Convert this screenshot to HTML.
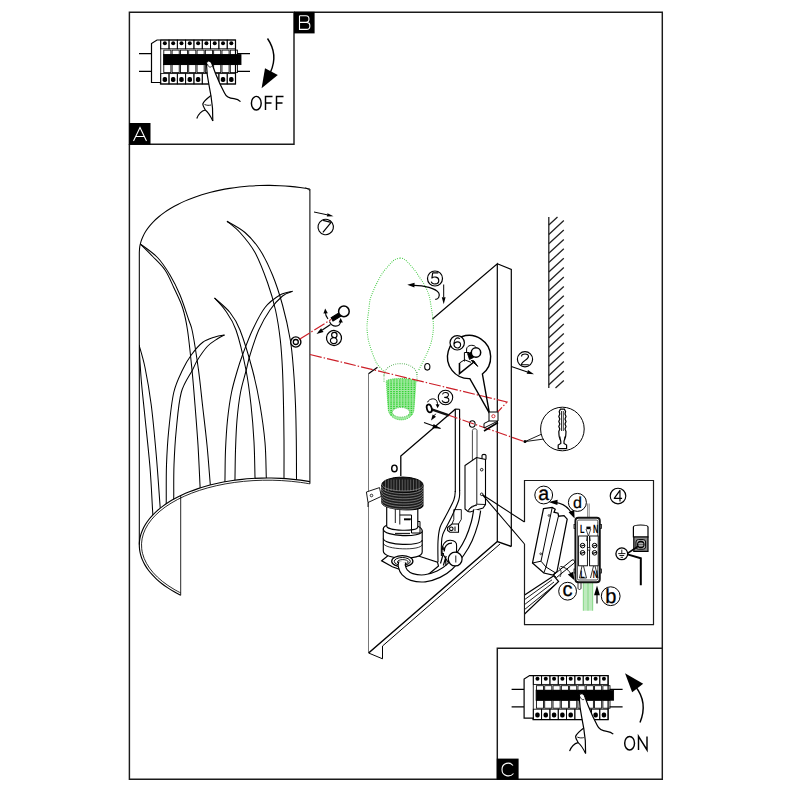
<!DOCTYPE html>
<html><head><meta charset="utf-8"><title>Assembly</title>
<style>
html,body{margin:0;padding:0;background:#fff;}
svg{display:block;font-family:"Liberation Sans",sans-serif;}
text{text-rendering:geometricPrecision;}
</style></head><body>
<svg width="800" height="800" viewBox="0 0 800 800">
<rect width="800" height="800" fill="#fff"/>
<defs>

<g id="brk" stroke="#000" stroke-width="0.85" fill="none">
<path d="M139,53.7H151.5M139,71.3H151.5M237,53.7H250M237,71.3H250" stroke-width="1.3"/>
<path d="M151.5,82.5V43.5L157,40H235.5V84H160.5V82.5Z" fill="#fff" stroke-width="1.2"/>
<path d="M160.7,40V84" />
<rect x="160.70" y="40" width="8.31" height="8.8"/>
<circle cx="164.86" cy="43.2" r="2" fill="#000" stroke="none"/>
<rect x="169.01" y="40" width="8.31" height="8.8"/>
<circle cx="173.17" cy="43.2" r="2" fill="#000" stroke="none"/>
<rect x="177.32" y="40" width="8.31" height="8.8"/>
<circle cx="181.48" cy="43.2" r="2" fill="#000" stroke="none"/>
<rect x="185.63" y="40" width="8.31" height="8.8"/>
<circle cx="189.79" cy="43.2" r="2" fill="#000" stroke="none"/>
<rect x="193.94" y="40" width="8.31" height="8.8"/>
<circle cx="198.10" cy="43.2" r="2" fill="#000" stroke="none"/>
<rect x="202.26" y="40" width="8.31" height="8.8"/>
<circle cx="206.41" cy="43.2" r="2" fill="#000" stroke="none"/>
<rect x="210.57" y="40" width="8.31" height="8.8"/>
<circle cx="214.72" cy="43.2" r="2" fill="#000" stroke="none"/>
<rect x="218.88" y="40" width="8.31" height="8.8"/>
<circle cx="223.03" cy="43.2" r="2" fill="#000" stroke="none"/>
<rect x="227.19" y="40" width="8.31" height="8.8"/>
<circle cx="231.34" cy="43.2" r="2" fill="#000" stroke="none"/>
<rect x="163.80" y="50.1" width="7.11" height="4.8"/>
<rect x="172.11" y="50.1" width="7.11" height="4.8"/>
<rect x="180.42" y="50.1" width="7.11" height="4.8"/>
<rect x="188.73" y="50.1" width="7.11" height="4.8"/>
<rect x="197.04" y="50.1" width="7.11" height="4.8"/>
<rect x="205.36" y="50.1" width="7.11" height="4.8"/>
<rect x="213.67" y="50.1" width="7.11" height="4.8"/>
<rect x="221.98" y="50.1" width="7.11" height="4.8"/>
<rect x="230.29" y="50.1" width="7.11" height="4.8"/>
<rect x="163.5" y="54.6" width="77.5" height="10" fill="#000"/>
<rect x="163.80" y="64.6" width="7.11" height="8"/>
<rect x="172.11" y="64.6" width="7.11" height="8"/>
<rect x="180.42" y="64.6" width="7.11" height="8"/>
<rect x="188.73" y="64.6" width="7.11" height="8"/>
<rect x="197.04" y="64.6" width="7.11" height="8"/>
<rect x="205.36" y="64.6" width="7.11" height="8"/>
<rect x="213.67" y="64.6" width="7.11" height="8"/>
<rect x="221.98" y="64.6" width="7.11" height="8"/>
<rect x="230.29" y="64.6" width="7.11" height="8"/>
<rect x="160.70" y="73.6" width="8.31" height="10.4"/>
<rect x="162.66" y="77" width="4.4" height="5" rx="1.8" fill="#000" stroke="none"/>
<rect x="169.01" y="73.6" width="8.31" height="10.4"/>
<rect x="170.97" y="77" width="4.4" height="5" rx="1.8" fill="#000" stroke="none"/>
<rect x="177.32" y="73.6" width="8.31" height="10.4"/>
<rect x="179.28" y="77" width="4.4" height="5" rx="1.8" fill="#000" stroke="none"/>
<rect x="185.63" y="73.6" width="8.31" height="10.4"/>
<rect x="187.59" y="77" width="4.4" height="5" rx="1.8" fill="#000" stroke="none"/>
<rect x="193.94" y="73.6" width="8.31" height="10.4"/>
<rect x="195.90" y="77" width="4.4" height="5" rx="1.8" fill="#000" stroke="none"/>
<rect x="202.26" y="73.6" width="8.31" height="10.4"/>
<rect x="210.57" y="73.6" width="8.31" height="10.4"/>
<rect x="218.88" y="73.6" width="8.31" height="10.4"/>
<rect x="220.83" y="77" width="4.4" height="5" rx="1.8" fill="#000" stroke="none"/>
<rect x="227.19" y="73.6" width="8.31" height="10.4"/>
<rect x="229.14" y="77" width="4.4" height="5" rx="1.8" fill="#000" stroke="none"/>
</g>
<g id="hand" stroke="#000" stroke-width="1" fill="none">
<path d="M206.6,62.4C208,59.8 211.5,61 212.2,64.5L215.5,73.5L220,84L224.5,93C226,96.5 230,98.3 234,98.7C237,99 239,100 240.5,101.6L226,118L212.8,121L211,96L208.8,84L207.3,75Z" fill="#fff" stroke="none"/>
<path d="M206.6,62.4C208,59.8 211.5,61 212.2,64.5L215.5,73.5L220,84L224.5,93C226,96.5 230,98.3 234,98.7C237,99 239,100 240.5,101.6" stroke-width="1.2"/>
<path d="M206.6,62.4C206.4,66 207,71 207.3,75L208.8,84L211,96L212.5,108L212.8,121" stroke-width="1.2"/>
<path d="M207.5,64C208,67 210.5,68 211.8,66.2" stroke-width="0.8"/>
<path d="M211,95.5C207,98.5 203.8,101 202.8,104C203,107 205,108.5 205.3,110C201,111 198.5,114 196.8,118.5" fill="#fff" stroke-width="1.2"/>
<path d="M204.5,104.5C207,105.5 209,105.5 211,105" stroke-width="0.9"/>
<path d="M205.3,110C208,112 210,115 212.8,121" stroke-width="1.1"/>
</g>
</defs>
<g id="frames" fill="none" stroke="#1a1a1a" stroke-width="1.45">
<path d="M129.4,12.3H294V144.2H129.4Z"/>
<path d="M294,12.3H662.3V648"/>
<path d="M129.4,144.2V779.3H497.3"/>
<path d="M497.3,648.2H662.3V779.3H497.3Z"/>
<path d="M524.5,522V480.5H653.5V624.6H524.5V544" stroke-width="1.2"/>
</g>
<g id="labels">
<rect x="129.2" y="123" width="21.3" height="21.7" fill="#000"/>
<rect x="294" y="11.8" width="20.6" height="21.6" fill="#000"/>
<rect x="496.8" y="758.6" width="21.8" height="21.2" fill="#000"/>
<g fill="none" stroke="#fff" stroke-width="1.1">
<path d="M133.5,141L140,127.5L146.5,141M135.8,136.5H144.2"/>
<path d="M299.5,15.8V29.4H306.5C311,29.4 311,22.4 306.5,22.4H299.5M306,22.4C310,22.4 310,15.8 306,15.8H299.5"/>
<path d="M513,765.5C510,761.5 502,762.5 502,769.5C502,776.5 510,777.5 513.5,773.5"/>
</g></g>

<use href="#brk"/><use href="#hand"/>
<use href="#brk" transform="translate(372.6,635.6)"/><use href="#hand" transform="translate(372.8,632.6)"/>
<g id="offon" fill="none" stroke="#000" stroke-width="1.45">
<path d="M267.5,38.5C274,48 276,60 270.5,72" />
<path d="M265,68.3L277.8,75L261.6,88.3Z" fill="#000" stroke="none"/>
<ellipse cx="256.3" cy="103.2" rx="4.9" ry="6.8"/>
<path d="M265.5,110V96.4H272.5M265.5,103H271.5M276.5,110V96.4H283.5M276.5,103H282.5"/>
<path d="M640,722.5C646,708 643,696 635.5,686.5"/>
<path d="M625,673.2L643.2,683.8L632.2,692.3Z" fill="#000" stroke="none"/>
<ellipse cx="629.6" cy="743.2" rx="4.9" ry="6.8"/>
<path d="M638.5,750V736.4L647,750V736.4"/>
</g>
<g id="shade" fill="none" stroke="#000" stroke-width="1.05">
<path d="M309.90,189.02C308.26,188.76 303.37,187.94 300.06,187.50C296.76,187.06 293.41,186.69 290.05,186.39C286.69,186.08 283.30,185.85 279.91,185.68C276.52,185.52 273.11,185.42 269.71,185.39C266.31,185.36 262.90,185.41 259.51,185.52C256.13,185.63 252.74,185.81 249.38,186.06C246.03,186.31 242.68,186.63 239.38,187.01C236.07,187.40 232.79,187.85 229.56,188.37C226.33,188.89 223.13,189.48 219.99,190.13C216.85,190.78 213.75,191.50 210.72,192.27C207.69,193.05 204.71,193.89 201.81,194.79C198.91,195.69 196.08,196.65 193.32,197.67C190.57,198.68 187.89,199.76 185.30,200.88C182.71,202.01 180.20,203.19 177.80,204.42C175.39,205.65 173.07,206.94 170.85,208.26C168.64,209.59 166.52,210.96 164.51,212.38C162.51,213.79 160.60,215.25 158.82,216.75C157.03,218.24 155.35,219.77 153.80,221.34C152.24,222.90 150.80,224.50 149.49,226.13C148.17,227.75 146.98,229.41 145.91,231.08C144.84,232.76 143.90,234.46 143.09,236.18C142.28,237.89 141.59,239.63 141.04,241.38C140.49,243.13 140.07,244.89 139.78,246.66C139.49,248.42 139.39,251.09 139.31,251.98"/>
<path d="M139.31,251.98V544.58"/>
<path d="M309.9,189.02V483.83"/>
<path d="M309.90,481.62C308.33,481.37 303.63,480.58 300.46,480.15C297.28,479.73 294.07,479.36 290.85,479.06C287.62,478.76 284.37,478.52 281.12,478.34C277.87,478.17 274.59,478.06 271.33,478.01C268.07,477.96 264.79,477.98 261.53,478.06C258.28,478.14 255.02,478.29 251.78,478.49C248.55,478.70 245.33,478.97 242.14,479.31C238.95,479.64 235.78,480.04 232.65,480.50C229.52,480.95 226.42,481.48 223.37,482.06C220.32,482.64 217.31,483.28 214.36,483.98C211.40,484.67 208.49,485.43 205.65,486.25C202.81,487.06 200.02,487.93 197.31,488.85C194.60,489.78 191.95,490.76 189.38,491.78C186.81,492.81 184.31,493.89 181.90,495.02C179.49,496.15 177.15,497.32 174.92,498.54C172.68,499.76 170.52,501.03 168.47,502.33C166.41,503.64 164.45,504.99 162.59,506.37C160.73,507.76 158.96,509.18 157.31,510.64C155.66,512.09 154.11,513.58 152.67,515.10C151.23,516.62 149.90,518.17 148.69,519.74C147.47,521.31 146.37,522.91 145.39,524.53C144.40,526.14 143.53,527.78 142.79,529.44C142.04,531.09 141.41,532.76 140.90,534.44C140.39,536.12 140.00,537.81 139.74,539.51C139.47,541.21 139.33,542.92 139.31,544.62C139.29,546.32 139.39,548.04 139.62,549.74C139.84,551.44 140.19,553.15 140.66,554.84C141.12,556.53 141.71,558.22 142.42,559.89C143.13,561.56 143.96,563.22 144.90,564.86C145.85,566.51 146.91,568.13 148.09,569.74C149.26,571.34 150.56,572.92 151.96,574.47C153.36,576.03 154.88,577.56 156.49,579.06C158.11,580.55 159.84,582.02 161.66,583.45C163.49,584.88 165.42,586.28 167.45,587.64C169.47,589.00 171.59,590.32 173.80,591.60C176.01,592.87 179.55,594.68 180.70,595.30" stroke-width="1.15"/>
<path d="M309.90,483.83C308.36,483.59 303.77,482.81 300.67,482.39C297.56,481.97 294.42,481.60 291.27,481.30C288.11,481.00 284.93,480.76 281.75,480.58C278.57,480.40 275.36,480.28 272.16,480.22C268.97,480.17 265.76,480.17 262.57,480.24C259.38,480.30 256.18,480.43 253.02,480.62C249.85,480.80 246.69,481.05 243.56,481.36C240.43,481.67 237.32,482.04 234.25,482.47C231.18,482.90 228.13,483.39 225.14,483.93C222.14,484.48 219.18,485.08 216.28,485.74C213.37,486.40 210.51,487.12 207.72,487.89C204.92,488.66 202.17,489.49 199.50,490.36C196.83,491.24 194.22,492.17 191.68,493.15C189.15,494.13 186.68,495.16 184.30,496.23C181.92,497.30 179.61,498.43 177.40,499.59C175.18,500.75 173.04,501.96 171.01,503.21C168.97,504.46 167.02,505.75 165.17,507.07C163.32,508.39 161.57,509.76 159.92,511.15C158.27,512.54 156.72,513.97 155.28,515.42C153.84,516.88 152.50,518.36 151.28,519.87C150.06,521.38 148.94,522.91 147.95,524.46C146.95,526.01 146.06,527.59 145.29,529.18C144.52,530.77 143.86,532.37 143.33,533.99C142.79,535.60 142.37,537.24 142.07,538.87C141.77,540.50 141.59,542.15 141.53,543.79C141.47,545.43 141.53,547.08 141.71,548.72C141.88,550.37 142.18,552.01 142.60,553.65C143.01,555.28 143.55,556.91 144.20,558.53C144.85,560.14 145.62,561.75 146.50,563.34C147.38,564.93 148.38,566.50 149.49,568.05C150.60,569.61 151.82,571.14 153.15,572.65C154.48,574.16 155.92,575.65 157.46,577.10C159.01,578.55 160.66,579.98 162.40,581.38C164.15,582.77 166.00,584.14 167.95,585.46C169.89,586.78 171.93,588.08 174.06,589.32C176.18,590.57 179.59,592.34 180.70,592.95" stroke-width="0.85"/>
<path d="M180.7,495.59V595.30" stroke-width="0.85"/>
<path d="M305.4,187.42L309.9,190.62" stroke-width="0.7"/>
<clipPath id="cs"><path d="M309.90,189.02 L302.05,187.77 L294.07,186.78 L286.00,186.05 L277.87,185.59 L269.71,185.39 L261.55,185.46 L253.42,185.79 L245.36,186.39 L237.40,187.25 L229.56,188.37 L221.88,189.75 L214.39,191.37 L207.11,193.24 L200.08,195.34 L193.32,197.67 L186.87,200.21 L180.73,202.97 L174.95,205.92 L169.54,209.06 L164.51,212.38 L159.90,215.85 L155.72,219.48 L151.99,223.23 L148.71,227.11 L145.91,231.08 L143.59,235.15 L141.77,239.29 L140.44,243.48 L139.62,247.72 L139.31,251.98 L139.31,544.58 L139.50,541.38 L139.97,538.20 L140.73,535.03 L141.77,531.89 L143.09,528.78 L144.69,525.71 L146.57,522.68 L148.71,519.71 L151.12,516.79 L153.80,513.94 L156.73,511.16 L159.90,508.45 L163.32,505.83 L166.97,503.30 L170.85,500.86 L174.95,498.52 L179.25,496.29 L183.76,494.17 L188.45,492.16 L193.32,490.27 L198.37,488.50 L203.56,486.86 L208.91,485.35 L214.39,483.97 L219.99,482.73 L225.70,481.63 L231.50,480.67 L237.40,479.85 L243.36,479.18 L249.38,478.66 L255.45,478.29 L261.55,478.06 L267.67,477.98 L273.79,478.06 L279.91,478.28 L286.00,478.65 L292.06,479.18 L298.07,479.84 L304.02,480.66 L309.90,481.62Z"/></clipPath>
<g clip-path="url(#cs)">
<path d="M140.00,243.75C142.08,245.83 148.33,251.88 152.50,256.25C156.67,260.62 161.46,264.79 165.00,270.00C168.54,275.21 170.83,281.25 173.75,287.50C176.67,293.75 180.21,300.42 182.50,307.50C184.79,314.58 185.92,319.58 187.50,330.00C189.08,340.42 190.75,357.50 192.00,370.00C193.25,382.50 194.00,392.50 195.00,405.00C196.00,417.50 197.17,431.67 198.00,445.00C198.83,458.33 199.59,476.84 200.00,485.00C200.41,493.16 200.37,492.49 200.45,493.99"/>
<path d="M140.00,243.75C142.92,246.04 152.50,252.29 157.50,257.50C162.50,262.71 166.25,268.75 170.00,275.00C173.75,281.25 176.88,287.50 180.00,295.00C183.12,302.50 186.67,313.83 188.75,320.00C190.83,326.17 190.88,323.67 192.50,332.00C194.12,340.33 196.83,357.83 198.50,370.00C200.17,382.17 201.08,392.50 202.50,405.00C203.92,417.50 205.75,432.33 207.00,445.00C208.25,457.67 209.38,473.51 210.00,481.00C210.62,488.49 210.62,488.47 210.75,489.97"/>
<path d="M227.00,221.25C229.17,223.12 235.33,227.29 240.00,232.50C244.67,237.71 250.42,244.17 255.00,252.50C259.58,260.83 264.08,272.92 267.50,282.50C270.92,292.08 273.37,300.42 275.50,310.00C277.63,319.58 279.13,330.00 280.30,340.00C281.47,350.00 281.97,359.17 282.50,370.00C283.03,380.83 283.25,393.33 283.50,405.00C283.75,416.67 283.92,427.83 284.00,440.00C284.08,452.17 284.00,470.17 284.00,478.00C284.00,485.83 284.00,485.50 284.00,487.00"/>
<path d="M227.00,221.25C230.00,223.12 239.50,227.71 245.00,232.50C250.50,237.29 255.42,242.92 260.00,250.00C264.58,257.08 268.75,265.83 272.50,275.00C276.25,284.17 279.53,294.17 282.50,305.00C285.47,315.83 288.47,329.17 290.30,340.00C292.13,350.83 292.63,359.17 293.50,370.00C294.37,380.83 295.03,393.33 295.50,405.00C295.97,416.67 296.13,427.83 296.30,440.00C296.47,452.17 296.46,470.17 296.50,478.00C296.54,485.83 296.54,485.50 296.55,487.00"/>
<path d="M214.50,298.00C216.25,300.00 221.42,304.67 225.00,310.00C228.58,315.33 232.50,320.00 236.00,330.00C239.50,340.00 243.50,357.50 246.00,370.00C248.50,382.50 249.67,393.00 251.00,405.00C252.33,417.00 253.33,430.00 254.00,442.00C254.67,454.00 254.79,469.67 255.00,477.00C255.21,484.33 255.21,484.50 255.26,486.00"/>
<path d="M214.50,298.00C217.08,300.42 225.75,307.17 230.00,312.50C234.25,317.83 236.25,320.42 240.00,330.00C243.75,339.58 249.17,357.50 252.50,370.00C255.83,382.50 257.92,392.92 260.00,405.00C262.08,417.08 263.96,430.67 265.00,442.50C266.04,454.33 265.99,468.92 266.25,476.00C266.51,483.08 266.53,483.49 266.59,484.99"/>
<path d="M292.50,291.25C290.42,291.88 284.58,292.29 280.00,295.00C275.42,297.71 269.58,301.67 265.00,307.50C260.42,313.33 256.25,322.08 252.50,330.00C248.75,337.92 245.00,348.33 242.50,355.00C240.00,361.67 239.33,363.75 237.50,370.00C235.67,376.25 233.17,384.17 231.50,392.50C229.83,400.83 228.50,410.42 227.50,420.00C226.50,429.58 225.92,440.42 225.50,450.00C225.08,459.58 225.11,471.42 225.00,477.50C224.89,483.58 224.86,485.00 224.84,486.50"/>
<path d="M292.50,291.25C290.83,292.04 286.25,292.88 282.50,296.00C278.75,299.12 273.96,304.33 270.00,310.00C266.04,315.67 262.08,322.50 258.75,330.00C255.42,337.50 252.08,348.33 250.00,355.00C247.92,361.67 247.83,363.75 246.25,370.00C244.67,376.25 242.04,384.17 240.50,392.50C238.96,400.83 237.83,410.42 237.00,420.00C236.17,429.58 235.83,440.42 235.50,450.00C235.17,459.58 235.11,471.42 235.00,477.50C234.89,483.58 234.86,485.00 234.84,486.50"/>
<path d="M224.50,335.00C222.92,335.33 218.67,335.75 215.00,337.00C211.33,338.25 206.46,339.50 202.50,342.50C198.54,345.50 194.58,350.42 191.25,355.00C187.92,359.58 185.42,363.75 182.50,370.00C179.58,376.25 176.04,382.50 173.75,392.50C171.46,402.50 169.96,417.92 168.75,430.00C167.54,442.08 166.92,453.33 166.50,465.00C166.08,476.67 166.30,492.67 166.25,500.00C166.20,507.33 166.20,507.50 166.19,509.00"/>
<path d="M224.50,335.00C223.33,335.62 220.33,336.88 217.50,338.75C214.67,340.62 210.83,342.71 207.50,346.25C204.17,349.79 200.00,356.04 197.50,360.00C195.00,363.96 195.21,364.58 192.50,370.00C189.79,375.42 183.96,382.50 181.25,392.50C178.54,402.50 177.46,417.92 176.25,430.00C175.04,442.08 174.42,454.00 174.00,465.00C173.58,476.00 173.80,489.33 173.75,496.00C173.70,502.67 173.69,503.50 173.68,505.00"/>
<path d="M139.00,345.00C139.38,350.83 140.25,367.92 141.25,380.00C142.25,392.08 143.54,402.92 145.00,417.50C146.46,432.08 148.75,452.25 150.00,467.50C151.25,482.75 151.99,500.59 152.50,509.00C153.01,517.41 152.95,516.49 153.04,517.98"/>
<path d="M139.00,345.00C140.00,348.75 142.96,357.50 145.00,367.50C147.04,377.50 149.38,390.42 151.25,405.00C153.12,419.58 154.79,438.33 156.25,455.00C157.71,471.67 159.26,495.17 160.00,505.00C160.74,514.83 160.56,512.48 160.67,513.97"/>
</g>
<circle cx="295.8" cy="342" r="5.1" fill="#fff" stroke-width="1.4"/><circle cx="295.8" cy="342" r="2.5" stroke-width="1.3"/>
</g>
<g id="wall" stroke="#222" stroke-width="1.3" fill="none">
<path d="M548.8,217V388"/>
<path d="M548.8,225L557.5,217M548.8,234.4L563.8,220.6M548.8,243.8L563.8,230.0M548.8,253.2L563.8,239.4M548.8,262.6L563.8,248.8M548.8,272.0L563.8,258.2M548.8,281.4L563.8,267.6M548.8,290.8L563.8,277.0M548.8,300.2L563.8,286.4M548.8,309.6L563.8,295.8M548.8,319.0L563.8,305.2M548.8,328.4L563.8,314.6M548.8,337.8L563.8,324.0M548.8,347.2L563.8,333.4M548.8,356.6L563.8,342.8M548.8,366.0L563.8,352.2M548.8,375.4L563.8,361.6M548.8,384.8L563.8,371.0M555.5,388L563.8,380.4"/>
</g>
<g id="plate" stroke="#000" stroke-width="1.2" fill="none">
<path d="M432.5,319L497.3,263.7V541.3" />
<path d="M497.3,263.7L511.3,269.5V546.5" />
<path d="M368.5,373.8L377.5,367.3" />
<path d="M368.5,373.8V652.5" stroke="#555" stroke-width="0.8"/>
<path d="M368.6,653L497.3,541.5L511.3,546.5" stroke-width="1.5"/>
<path d="M368.6,653L382.5,658.8V646L500,544" stroke-width="1"/>
<ellipse cx="427.3" cy="366.8" rx="2.6" ry="3.3" stroke-width="1.1"/>
<ellipse cx="472.3" cy="424" rx="2.8" ry="3.2" stroke-width="1.1"/>
<ellipse cx="394.4" cy="468.4" rx="2.7" ry="3.3" stroke-width="1.4"/>
</g>
<g id="bracket" stroke="#000" stroke-width="1.3" fill="none">
<path d="M400.8,476V456L455.5,409"/>
<path d="M455.3,409V492M459.6,409.3V491M455.3,409L459.6,409.3" stroke-width="1.15"/>
<path d="M455.30,491.00C455.05,492.50 455.43,495.75 453.80,500.00C452.17,504.25 447.80,511.92 445.50,516.50C443.20,521.08 441.25,523.37 440.00,527.50C438.75,531.63 438.33,535.55 438.00,541.30C437.67,547.05 438.00,558.55 438.00,562.00" stroke-width="1.1"/>
<path d="M459.60,490.00C459.47,491.67 460.23,495.33 458.80,500.00C457.37,504.67 453.67,512.27 451.00,518.00C448.33,523.73 444.40,529.83 442.80,534.40C441.20,538.97 441.63,541.80 441.40,545.40C441.17,549.00 441.40,554.23 441.40,556.00" stroke-width="1.1"/>
</g>
<g id="tbox" stroke="#000" stroke-width="1" fill="#fff">
<path d="M472.4,461V430.5C472.4,428.2 477,428.2 477,430.5V458" fill="none" stroke="#333" stroke-width="0.9"/>
<path d="M482,459V455.6C482,454 486,454 486,455.6V459.5" stroke-width="1.1"/>
<path d="M465,465.5L476.5,457.5L485.5,459.5V504.5L483,508L470,512L468,511.5L465,509Z" stroke-width="1.1"/>
<path d="M476.8,457.8V504.2L468.5,509.5M476.8,504.2L485.5,504.5" fill="none" stroke-width="0.9"/>
<path d="M468.5,511.5C469,507.5 472,505.5 476.8,505.5" fill="none" stroke-width="0.9"/>
<circle cx="481.7" cy="469.7" r="1.3" fill="none" stroke-width="0.9"/><circle cx="481.7" cy="494.3" r="1.3" fill="none" stroke-width="0.9"/>
</g>
<g id="socket" stroke="#000" stroke-width="1.15" fill="#fff">
<path d="M381.7,560.8L396.5,548.8L437.5,562.2L438.5,566L424,578L392.3,566.8Z" stroke-width="1.2"/>
<path d="M383.3,529V551C383.3,560 422.2,561 422.2,552V531Z"/>
<path d="M383.3,538.5C384,545.5 421.5,546.5 422.2,540" fill="none"/>
<path d="M383.3,543C384,550 421.5,551 422.2,544.5" fill="none" stroke-width="0.8"/>
<path d="M383.3,529C383.3,520.5 422.2,521.5 422.2,531C422.2,538 383.3,537 383.3,529Z"/>
<path d="M386.7,500V526C386.7,531 417.8,532 417.8,527V503Z"/>
<path d="M395.3,501V523M399.8,500V524.5" fill="none" stroke-width="0.9"/>
<path d="M399.8,515H411.5V519H404M411.5,519V533H420V521.5H417.8" fill="none" stroke-width="1"/>
<path d="M404,519.5H410.5" stroke-width="1.6"/>
<path d="M395,533.5H410" stroke-width="1.3" stroke="#222"/>
<path d="M381.8,485V503C383,510.5 421.5,512.5 423,506V485Z" fill="#1b1b1b" stroke-width="1"/>
<ellipse cx="402.4" cy="485" rx="20.6" ry="8" fill="#1b1b1b" stroke-width="1"/>
<path d="M381.8,484.0C382.5,492.6 422,493.6 423,485.0M381.8,486.6C382.5,495.2 422,496.2 423,487.6M381.8,489.2C382.5,497.8 422,498.8 423,490.2M381.8,491.8C382.5,500.4 422,501.4 423,492.8M381.8,494.4C382.5,503.0 422,504.0 423,495.4M381.8,497.0C382.5,505.6 422,506.6 423,498.0M381.8,499.6C382.5,508.2 422,509.2 423,500.6M381.8,502.2C382.5,510.8 422,511.8 423,503.2" fill="none" stroke="#c8c8c8" stroke-width="0.5"/>
<path d="M385.5,479.5V491M388.3,479.5V491M391.1,479.5V491M393.9,479.5V491M396.7,479.5V491M399.5,479.5V491M402.3,479.5V491M405.1,479.5V491M407.9,479.5V491M410.7,479.5V491M413.5,479.5V491M416.3,479.5V491M419.1,479.5V491" fill="none" stroke="#aaa" stroke-width="0.45"/>
<ellipse cx="402.3" cy="561.2" rx="10.6" ry="5.6" stroke-width="1.3"/>
<ellipse cx="402.3" cy="561.4" rx="8" ry="3.9" stroke-width="1"/>
<ellipse cx="402.8" cy="562" rx="5.4" ry="2.4" stroke-width="0.9"/>
</g>
<path d="M402.30,562.00C402.22,562.67 401.42,564.30 401.80,566.00C402.18,567.70 402.93,570.37 404.60,572.20C406.27,574.03 408.42,575.98 411.80,577.00C415.18,578.02 420.43,578.77 424.90,578.30C429.37,577.83 434.47,576.13 438.60,574.20C442.73,572.27 445.97,570.23 449.70,566.70C453.43,563.17 457.80,557.58 461.00,553.00C464.20,548.42 466.61,544.25 468.90,539.20C471.19,534.15 473.37,527.57 474.75,522.70C476.13,517.83 476.79,512.12 477.20,510.00" fill="none" stroke="#000" stroke-width="8.2" stroke-linecap="butt"/>
<path d="M402.30,562.00C402.22,562.67 401.42,564.30 401.80,566.00C402.18,567.70 402.93,570.37 404.60,572.20C406.27,574.03 408.42,575.98 411.80,577.00C415.18,578.02 420.43,578.77 424.90,578.30C429.37,577.83 434.47,576.13 438.60,574.20C442.73,572.27 445.97,570.23 449.70,566.70C453.43,563.17 457.80,557.58 461.00,553.00C464.20,548.42 466.61,544.25 468.90,539.20C471.19,534.15 473.37,527.57 474.75,522.70C476.13,517.83 476.79,512.12 477.20,510.00" fill="none" stroke="#fff" stroke-width="5.9" stroke-linecap="butt"/>
<g stroke="#000" fill="#fff" stroke-width="1.1">
<path d="M442.2,553C441,545 445.5,540 450.5,540.3C454.5,540.5 457,542.5 456.6,546L456.5,552L448,562Z" />
<path d="M444.2,551.5C444,546.5 447.5,543 452,543.2" fill="none" stroke-width="1.3"/>
<path d="M440.5,563.5L443.5,553M443.3,565.5L446.2,556M446,565.5L445.5,558" fill="none" stroke-width="1.2"/>
<path d="M441.5,549.5L443,546.5L444.3,549.8Z" fill="#000" stroke-width="0.6"/>
<circle cx="455.2" cy="559.1" r="6.9" stroke-width="1.25"/>
<path d="M455.8,555.5V562.5" stroke-width="0.9"/>
<path d="M447.6,527.5L452,524H458.5V532.3H450L447.6,530.5Z" stroke-width="1.1"/>
<path d="M453.8,509.6H461.3V519.3L458.5,524M453.8,509.6V519.5L452,524" fill="none" stroke-width="0.9"/>
<circle cx="451.3" cy="528.8" r="1.8" fill="none" stroke-width="1.1"/>
<path d="M455,526.5V531" stroke-width="1"/>
</g>
<g stroke="#000" fill="#fff" stroke-width="0.9">
<path d="M366.4,492L379.5,487.6L381.3,496.4L368,502.5Z"/>
<path d="M368,502.5V507" fill="none"/>
<circle cx="371.5" cy="495.5" r="1.3" fill="none" stroke-width="0.8"/>
</g>
<g id="bulb" fill="none" stroke="#3cc83c" stroke-width="1.05" stroke-dasharray="0.9 1.3" stroke-linecap="butt">
<path d="M400.00,258.00C399.17,258.25 396.50,258.67 395.00,259.50C393.50,260.33 392.33,261.67 391.00,263.00C389.67,264.33 388.42,265.83 387.00,267.50C385.58,269.17 383.92,270.92 382.50,273.00C381.08,275.08 379.75,277.67 378.50,280.00C377.25,282.33 376.08,284.67 375.00,287.00C373.92,289.33 372.83,291.83 372.00,294.00C371.17,296.17 370.53,297.33 370.00,300.00C369.47,302.67 369.22,306.67 368.80,310.00C368.38,313.33 367.80,317.00 367.50,320.00C367.20,323.00 366.92,325.00 367.00,328.00C367.08,331.00 367.50,335.00 368.00,338.00C368.50,341.00 369.08,343.00 370.00,346.00C370.92,349.00 372.25,352.92 373.50,356.00C374.75,359.08 375.79,361.96 377.50,364.50C379.21,367.04 382.71,370.12 383.75,371.25"/>
<path d="M400.00,258.00C400.67,258.17 402.67,258.25 404.00,259.00C405.33,259.75 406.67,261.17 408.00,262.50C409.33,263.83 410.67,265.42 412.00,267.00C413.33,268.58 414.67,270.17 416.00,272.00C417.33,273.83 418.67,276.00 420.00,278.00C421.33,280.00 422.83,282.00 424.00,284.00C425.17,286.00 426.08,287.83 427.00,290.00C427.92,292.17 428.83,294.33 429.50,297.00C430.17,299.67 430.53,303.17 431.00,306.00C431.47,308.83 431.93,311.33 432.30,314.00C432.67,316.67 433.03,319.33 433.20,322.00C433.37,324.67 433.53,327.00 433.30,330.00C433.07,333.00 432.60,336.67 431.80,340.00C431.00,343.33 429.63,347.08 428.50,350.00C427.37,352.92 426.70,354.00 425.00,357.50C423.30,361.00 419.42,368.75 418.30,371.00"/>
<path d="M384,376C384,359.5 417,359.5 417,376" stroke="#5fb35f"/>
<path d="M384,372V383M417,372V383" stroke="#5fb35f"/>
</g>
<g id="bulbbase">
<path d="M386.2,381C390,377.6 412,377.6 416,381L414,409C413,423.5 389.5,423.5 388.2,409Z" fill="#a4eaa4" stroke="none"/>
<clipPath id="cb"><path d="M386.2,381C390,377.6 412,377.6 416,381L414,409C413,423.5 389.5,423.5 388.2,409Z"/></clipPath>
<path d="M388.2,379.5V416M391.1,379.5V416M394.0,379.5V416M396.9,379.5V416M399.8,379.5V416M402.7,379.5V416M405.6,379.5V416M408.5,379.5V416M411.4,379.5V416M414.3,379.5V416" stroke="#35d235" stroke-width="1.65" stroke-dasharray="1.1 0.8" fill="none" clip-path="url(#cb)"/>
<path d="M386.2,381C390,377.6 412,377.6 416,381L414,409C413,423.5 389.5,423.5 388.2,409Z" fill="none" stroke="#35cf35" stroke-width="0.9" stroke-dasharray="1 1"/>
<ellipse cx="401" cy="412.3" rx="8.6" ry="4.8" fill="#fff" stroke="#55c055" stroke-width="0.9" stroke-dasharray="1 1.2"/>
</g>
<g id="step4">
<path d="M482.5,494.8L524.5,522M482.5,494.8L524.5,544" stroke="#000" stroke-width="1.1" fill="none"/>
<clipPath id="c4"><rect x="525" y="481" width="128" height="143"/></clipPath>
<g clip-path="url(#c4)">
<g stroke="#000" stroke-width="1" fill="#fff">
<path d="M572,560C573.5,559 575.5,561.5 574.5,562.8L556.5,577.5L553.5,575Z" stroke-width="1"/>
<path d="M553.8,575.8L558.6,581.5L524,614.5V595.5Z" stroke-width="1.2"/>
<path d="M552,579.8L524,600M554,582L524,605M556,584L524,610" fill="none" stroke-width="0.9"/>
<path d="M559,567.5C561,569 562,573 560,577" fill="none" stroke-width="0.8"/>
</g>
<g stroke="#000" stroke-width="1.25" fill="#fff">
<path d="M543.5,508.6L552.2,507.4L555.2,509.2L554,512.2L558,513.2L558.6,516.2L564,515.6L567.2,519.2L557,571.5L553,575L543.8,573L532.5,563Z"/>
<path d="M552.2,507.6L541,561.2L532.5,563M541,561.2L546,567L558.4,516.4M546,567L543.8,573M546,567L555,572.6" fill="none" stroke-width="1"/>
<circle cx="549" cy="515.5" r="0.9" fill="none" stroke-width="0.7"/><circle cx="540.7" cy="553.8" r="0.9" fill="none" stroke-width="0.7"/>
</g>
<rect x="583" y="582.5" width="10" height="28.2" fill="#bfeabf" stroke="none"/>
<path d="M583.3,582.5V610.7M592.7,582.5V610.7M588,582.5V610.7" stroke="#6fcf6f" stroke-width="0.7" fill="none"/>
<path d="M587.6,503.5V528M589.2,503.5V528" stroke="#555" stroke-width="0.7" fill="none"/>
<g stroke="#000" fill="#fff">
<rect x="574" y="524.5" width="2.2" height="4" stroke-width="0.8"/><rect x="599.2" y="524.5" width="2.2" height="4" stroke-width="0.8"/>
<rect x="574" y="569" width="2.2" height="4" stroke-width="0.8"/><rect x="599.2" y="569" width="2.2" height="4" stroke-width="0.8"/>
<rect x="575.4" y="517.8" width="24.4" height="64.4" rx="3" stroke-width="1.9" stroke="#111"/>
<rect x="577.4" y="520" width="20.4" height="60" rx="1.5" stroke-width="0.7" fill="none"/>
<rect x="578.6" y="536" width="8.8" height="29.8" stroke-width="0.9"/>
<rect x="589.6" y="536" width="8.6" height="29.8" stroke-width="0.9"/>
<circle cx="582.6" cy="545.6" r="2.3" stroke-width="1"/>
<path d="M580.4,546.2L584.8000000000001,545.0" stroke-width="1.1"/>
<circle cx="582.6" cy="552.8" r="2.3" stroke-width="1"/>
<path d="M580.4,553.4L584.8000000000001,552.1999999999999" stroke-width="1.1"/>
<circle cx="594.6" cy="545.6" r="2.3" stroke-width="1"/>
<path d="M592.4,546.2L596.8000000000001,545.0" stroke-width="1.1"/>
<circle cx="594.6" cy="552.8" r="2.3" stroke-width="1"/>
<path d="M592.4,553.4L596.8000000000001,552.1999999999999" stroke-width="1.1"/>
<rect x="587.5" y="547.5" width="2.4" height="2.6" stroke-width="0.7"/>
<path d="M582,566L579.5,578M583.5,566L586.5,578H579.5M595,566L598,578M593.5,566L590.5,578" fill="none" stroke-width="0.8"/>
<path d="M586,529L588.4,536L590.8,529M587.2,536L586.5,541M589.6,536L590.3,541" fill="none" stroke-width="0.7"/>
<rect x="586.4" y="526.6" width="4.2" height="2.6" fill="#000" stroke="none"/>
</g>
<g font-family="'Liberation Sans',sans-serif" font-weight="bold" fill="#000">
<text transform="translate(579.93 533.20) scale(0.619 1)" x="0" y="0" font-size="12">L</text>
<text transform="translate(592.91 533.20) scale(0.619 1)" x="0" y="0" font-size="12">N</text>
<text transform="translate(580.20 578.40) scale(0.653 1)" x="0" y="0" font-size="11.04">L</text>
<text transform="translate(592.80 578.40) scale(0.653 1)" x="0" y="0" font-size="11.04">N</text>
</g>
<path d="M578,583V588C578,590 581,590 581,588V583" stroke="#000" stroke-width="0.8" fill="none"/>
<path d="M555,502.4C562,503.2 568,507 571.5,513" stroke="#000" stroke-width="1.1" fill="none"/>
<path d="M548.5,502L557.6,499.8L557.4,505Z" fill="#000"/>
<path d="M574.6,518.6L568.6,512.2L574.2,509.8Z" fill="#000"/>
<path d="M560.5,566.5C565,567 569,570 571.5,575" stroke="#000" stroke-width="1" fill="none"/>
<path d="M574.4,580.2L567.8,574.6L573.2,571.8Z" fill="#000"/>
<path d="M597,603.5V594" stroke="#000" stroke-width="1.1"/><path d="M597,585.6L599.9,595.2H594.1Z" fill="#000"/>
<circle cx="543.7" cy="495" r="8.9" fill="#fff" stroke="#000" stroke-width="1"/>
<text x="538.28" y="499.90" font-family="'Liberation Sans',sans-serif" font-size="19.5" fill="#000" stroke="#000" stroke-width="0.29">a</text>
<circle cx="577.4" cy="502.4" r="9" fill="#fff" stroke="#000" stroke-width="1"/>
<text x="572.95" y="508.00" font-family="'Liberation Sans',sans-serif" font-size="16" fill="#000" stroke="#000" stroke-width="0.23">d</text>
<circle cx="567.6" cy="591.2" r="8.9" fill="#fff" stroke="#000" stroke-width="1"/>
<text x="562.60" y="596.40" font-family="'Liberation Sans',sans-serif" font-size="20" fill="#000" stroke="#000" stroke-width="0.29">c</text>
<circle cx="610.7" cy="596.2" r="9.4" fill="#fff" stroke="#000" stroke-width="1"/>
<text x="605.14" y="603.20" font-family="'Liberation Sans',sans-serif" font-size="20" fill="#000" stroke="#000" stroke-width="0.29">b</text>
<g stroke="#000" fill="#fff" stroke-width="1.2">
<path d="M633.4,537V527C633.4,524.3 648,524.3 648,527V537Z"/>
<path d="M633.8,537H648V551.3H633.8Z" fill="#8a8a8a"/>
<rect x="636" y="539.6" width="9.6" height="9.6" rx="2.4" stroke-width="1" fill="#bbb"/>
<circle cx="640.8" cy="544.5" r="3.2" stroke-width="1.2" fill="#666"/>
<path d="M638.4,543.6H643.2M638.4,545.6H643.2" stroke-width="0.7" stroke="#ddd"/>
<path d="M627.5,553.4L638.5,546" stroke-width="1.6"/>
<path d="M627.5,554.4L640.8,558.2V585.2" fill="none" stroke-width="2"/>
<circle cx="621.8" cy="553.8" r="5.9" stroke-width="1.3"/>
<path d="M621.8,549.6V553.6M618.2,553.6H625.4M619.4,555.5H624.2M620.6,557.3H623" stroke-width="0.9"/>
</g>
</g>
</g>
<g id="red" fill="none" stroke="#cc1f28" stroke-width="1.2" stroke-dasharray="12 2 1.5 2">
<path d="M299.5,339.3L331,319.6"/>
<path d="M310,354.5L507,402L494,416"/>
<path d="M429.5,408.5L525,441.8"/>
</g>
<path d="M314.0,212.0L327.1,214.8" stroke="#000" stroke-width="1" fill="none"/><path d="M333.5,216.2L326.8,216.5L327.5,213.2Z" fill="#000" stroke="none"/>
<g transform="rotate(14 325.7 227)"><circle cx="325.7" cy="227" r="7.7" fill="#fff" stroke="#000" stroke-width="1.15"/><path d="M0.4,0H9.6L3.4,14" transform="translate(321.20 221.20) scale(0.900 0.829)" fill="none" stroke="#000" stroke-width="1.33" stroke-linejoin="round"/></g>
<g stroke="#000" fill="#fff" stroke-width="1.1">
<path d="M331.2,317.6L338.8,313L340.6,316.2L333,320.9Z" fill="#000"/>
<circle cx="343.9" cy="311.4" r="5.3" stroke-width="1.5"/>
</g>
<path d="M330.5,324.6L322.3,330.1" stroke="#000" stroke-width="1.2" fill="none"/><path d="M316.5,334.0L321.1,328.3L323.5,331.9Z" fill="#000" stroke="none"/>
<path d="M328,319C326,316.5 325.4,314 325.5,312.5" stroke="#000" stroke-width="1.1" fill="none"/>
<path d="M325.2,308.6L323.4,313.6L327.8,313.2Z" fill="#000"/>
<path d="M329.5,321.5C332,327.5 340,328 340.8,321" stroke="#000" stroke-width="1.1" fill="none"/>
<path d="M340.6,318L338.6,322.6L342.9,322.5Z" fill="#000"/>
<g transform="rotate(6 334 338)"><circle cx="334" cy="338" r="7.5" fill="#fff" stroke="#000" stroke-width="1.25"/><path d="M5,6.6C0.6,6.6 0.6,0 5,0C9.4,0 9.4,6.6 5,6.6C-0.4,6.6 -0.4,14 5,14C10.4,14 10.4,6.6 5,6.6" transform="translate(329.90 332.40) scale(0.820 0.800)" fill="none" stroke="#000" stroke-width="1.42" stroke-linejoin="round"/></g>
<g><circle cx="435" cy="278.5" r="7.5" fill="#fff" stroke="#000" stroke-width="1.2"/><path d="M9,0H2.2L1.2,6.4C3.2,4.4 9.6,4.4 9.6,9.4C9.6,15 1.6,15 0.4,11" transform="translate(430.90 272.90) scale(0.820 0.800)" fill="none" stroke="#000" stroke-width="1.42" stroke-linejoin="round"/></g>
<path d="M413,285.4C424,285.2 436,288.5 438.8,293C440.5,296.5 438,299.5 435.3,299.3" stroke="#000" stroke-width="1.2" fill="none"/>
<path d="M407.3,284.8L414.6,282.8L414.4,287.6Z" fill="#000"/>
<path d="M443.7,284.5L443.7,297.2" stroke="#000" stroke-width="1" fill="none"/><path d="M443.7,304.2L441.8,297.2L445.6,297.2Z" fill="#000" stroke="none"/>
<g><circle cx="525" cy="359.2" r="7.6" fill="#fff" stroke="#000" stroke-width="1.15"/><path d="M0.8,3.6C0.8,-0.6 9.2,-0.6 9.2,3.6C9.2,7.5 1,9.5 0.5,14H9.6" transform="translate(520.90 353.60) scale(0.820 0.800)" fill="none" stroke="#000" stroke-width="1.42" stroke-linejoin="round"/></g>
<path d="M511.3,366.5L527.4,372.0" stroke="#000" stroke-width="1.1" fill="none"/><path d="M534.0,374.2L526.7,373.8L528.0,370.1Z" fill="#000" stroke="none"/>
<g><circle cx="445.5" cy="397.5" r="7.2" fill="#fff" stroke="#000" stroke-width="1.1"/><path d="M0.9,2.8C2,-0.6 9,-0.6 9,3.4C9,6.3 5.5,6.8 3.8,6.8C6,6.8 9.6,7.4 9.6,10.4C9.6,15 1.6,15 0.4,11" transform="translate(441.80 392.30) scale(0.740 0.743)" fill="none" stroke="#000" stroke-width="1.42" stroke-linejoin="round"/></g>
<g stroke="#000" fill="none" stroke-width="1">
<path d="M431,409.1L449,415.3" stroke-width="2.4" stroke="#111"/>
<ellipse cx="429.3" cy="408.4" rx="2.4" ry="4" stroke-width="1.7" fill="#fff" transform="rotate(-18 429.3 408.4)"/>
<path d="M427.5,402.3C429,398.5 435.5,397.3 437,401.5C437.6,403 437.6,404.5 437.5,405.5" stroke-width="1"/>
<path d="M437.6,408.2L435.6,404.2L439.6,404.4Z" fill="#000" stroke="none"/>
</g>
<path d="M435.6,413.8L434.4,415.6" stroke="#000" stroke-width="1" fill="none"/><path d="M431.0,420.6L432.7,414.5L436.0,416.8Z" fill="#000" stroke="none"/>
<path d="M424,422.4L440.6,428.6" stroke="#000" stroke-width="1.1"/>
<path d="M440.6,428.6L433.6,424L432.4,428.2Z" fill="#000"/>
<g stroke="#000" fill="#fff" stroke-width="1.1">
<circle cx="469.1" cy="357" r="21.6" stroke="none"/>
<path d="M469.85,378.6A21.6,21.6 0 1 1 482.4,374L489.4,413.2Z" stroke-width="1.4" stroke-linejoin="miter" fill="none"/>
</g>
<g><circle cx="457.2" cy="342.8" r="7.2" fill="#fff" stroke="#000" stroke-width="1.2"/><path d="M8.6,1.6C5,-1.6 0.5,2 0.5,8C0.5,15.6 9.6,15.6 9.6,9.6C9.6,4.6 2,4.6 0.7,9" transform="translate(453.50 337.60) scale(0.740 0.743)" fill="none" stroke="#000" stroke-width="1.48" stroke-linejoin="round"/></g>
<g stroke="#000" fill="#fff" stroke-width="1.1">
<path d="M466.6,352V349C467,345 473,344.4 475.5,346.5" fill="none" stroke-width="1"/>
<path d="M464.4,352.5V361.5M464.4,352.5H469" fill="none" stroke-width="1"/>
<path d="M459.5,363L464.5,359.8L471,362.3" fill="none" stroke-width="1"/>
<path d="M459.5,363V373.5L474.5,361.5" fill="none" stroke-width="1.6"/>
<path d="M467.5,353.5L472,352L473.5,357.5L469.5,359.5Z" fill="#000" stroke-width="0.8"/>
<circle cx="476" cy="352.5" r="4.7" stroke-width="1.5"/>
<path d="M471.2,360.5L477.8,366.4L473.8,360.8Z" fill="#000" stroke-width="1"/>
</g>
<g stroke="#000" fill="#fff" stroke-width="1">
<path d="M489,412H498V421H489Z"/>
<path d="M489,421L484,423.5V428L498,421" fill="none"/>
<path d="M484,431L498,422.5" stroke-width="1.6"/>
<circle cx="493.4" cy="416.2" r="1.6" stroke="#cc1f28" stroke-width="0.9"/>
</g>
<g stroke="#000" fill="#fff" stroke-width="1">
<path d="M525,441.6L543,433.5M525,441.6L544,439" fill="none" stroke-width="0.9"/>
<circle cx="562.4" cy="429" r="21.8"/>
<circle cx="525" cy="441.6" r="1.5" fill="#000" stroke="none"/>
<path d="M559.2,411.5L560.4,409.2H564.4L565.6,411.5L565,414L566,416.5L565,419L566,421.5L565,424L566,426.5L565,429L566,431.5L565.8,435C565.8,438 564.2,439.5 564,441.5V443.5L566.6,445V448.6H558.2V445L560.8,443.5V441.5C560.6,439.5 559,438 559,435L558.8,431.5L559.8,429L558.8,426.5L559.8,424L558.8,421.5L559.8,419L558.8,416.5L559.8,414Z" stroke-width="1.2"/>
<path d="M561.5,411V431M563.3,411V431" stroke-width="0.8"/>
<path d="M560.2,436.5V440M564.6,436.5V440" stroke-width="0.7"/>
</g>
<g><circle cx="618" cy="496" r="7.8" fill="#fff" stroke="#000" stroke-width="1.15"/><path d="M7.4,14V0L0.4,10H10" transform="translate(613.90 490.40) scale(0.820 0.800)" fill="none" stroke="#000" stroke-width="1.42" stroke-linejoin="round"/></g>
</svg></body></html>
